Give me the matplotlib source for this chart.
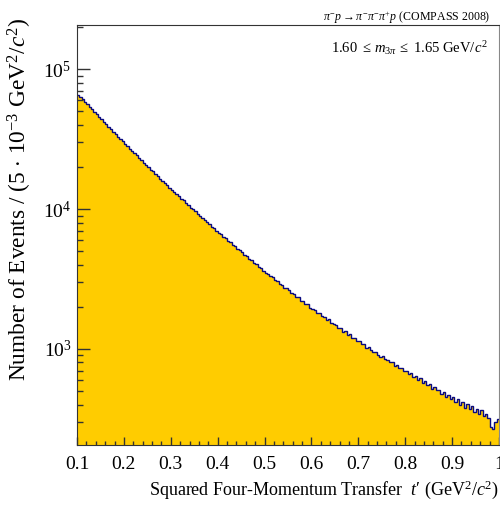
import numpy as np
import matplotlib
matplotlib.use('Agg')
import matplotlib.pyplot as plt
from matplotlib.ticker import LogLocator, LogFormatterMathtext, MultipleLocator, NullFormatter

plt.rcParams['font.family'] = ['Liberation Serif', 'DejaVu Serif']
plt.rcParams['mathtext.fontset'] = 'custom'
plt.rcParams['mathtext.rm'] = 'Liberation Serif'
plt.rcParams['mathtext.it'] = 'Liberation Serif:italic'

# t' histogram, 5e-3 GeV^2/c^2 bins from 0.1 to 1.0
t_lo, t_hi, n_bins = 0.1, 1.0, 180
counts = [
    66060, 63310, 60900, 58300, 56100, 53690, 51620, 49430, 47540, 45510,
    43810, 41980, 40450, 38760, 37350, 35790, 34490, 33030, 31850, 30500,
    29300, 28310, 27120, 26210, 25090, 24260, 23210, 22460, 21490, 20790,
    20030, 19180, 18590, 17790, 17260, 16510, 16010, 15320, 14870, 14220,
    13700, 13330, 12750, 12400, 11860, 11550, 11040, 10750, 10270, 10000,
    9650, 9240, 9000, 8610, 8400, 8040, 7840, 7490, 7320, 6990,
    6760, 6610, 6320, 6190, 5910, 5790, 5530, 5420, 5170, 5070,
    4910, 4690, 4600, 4390, 4320, 4120, 4050, 3860, 3800, 3620,
    3510, 3460, 3300, 3260, 3100, 3070, 2920, 2880, 2740, 2710,
    2640, 2500, 2480, 2350, 2340, 2220, 2210, 2100, 2080, 1970,
    1920, 1910, 1810, 1800, 1710, 1700, 1620, 1640, 1530, 1520,
    1490, 1410, 1400, 1330, 1340, 1260, 1270, 1200, 1190, 1140,
    1140, 1080, 1085, 1020, 1030, 975, 950, 955, 900, 880,
    890, 845, 840, 800, 805, 760, 770, 725, 735, 690,
    700, 660, 670, 625, 640, 600, 615, 570, 585, 550,
    560, 520, 535, 505, 510, 475, 495, 455, 470, 440,
    455, 420, 440, 400, 420, 380, 405, 370, 390, 355,
    370, 345, 365, 330, 345, 320, 275, 268, 300, 315,
]
x_ticks = [0.1, 0.2, 0.3, 0.4, 0.5, 0.6, 0.7, 0.8, 0.9, 1.0]
x_ticklabels = ['0.1', '0.2', '0.3', '0.4', '0.5', '0.6', '0.7', '0.8', '0.9', '1']

edges = np.linspace(t_lo, t_hi, n_bins + 1)

fig = plt.figure(figsize=(5.0, 5.14), dpi=100)
ax = fig.add_axes([0.154, 0.134, 0.844, 0.817])

ax.stairs(counts, edges, baseline=1, fill=True, color='#ffcc00', lw=0)
ax.stairs(counts, edges, baseline=None, color='#0a0a80', lw=1.0)

ax.set_yscale('log')
ax.set_xlim(t_lo, t_hi)
ax.set_ylim(205, 2.07e5)

ax.set_xticks(x_ticks)
ax.set_xticklabels(x_ticklabels)
ax.xaxis.set_minor_locator(MultipleLocator(0.02))
ax.yaxis.set_major_locator(LogLocator(base=10))
ax.yaxis.set_major_formatter(LogFormatterMathtext())
ax.yaxis.set_minor_locator(LogLocator(base=10, subs=np.arange(2, 10)))
ax.yaxis.set_minor_formatter(NullFormatter())

ax.tick_params(axis='both', which='both', direction='in', labelsize=14,
               top=False, right=False, color='#333333')
ax.tick_params(axis='x', which='major', length=6, width=1, pad=8)
ax.tick_params(axis='x', which='minor', length=3, width=1)
ax.tick_params(axis='y', which='major', length=9, width=1, pad=4)
ax.tick_params(axis='y', which='minor', length=4.5, width=1)

for side in ['left', 'bottom', 'top']:
    ax.spines[side].set_color('#333333')
ax.spines['right'].set_color('#888888')

fig.text(0.040, 1 - 18 / 514, r'Number of Events / (5 $\cdot$ 10$^{-3}$ GeV$^2$/$c^2$)',
         rotation=90, ha='center', va='top', fontsize=16.8)
fig.text(0.998, 1 - 490 / 514, r"Squared Four-Momentum Transfer  $t$′ (GeV$^2$/$c^2$)",
         ha='right', va='center', fontsize=13)
fig.text(0.980, 1 - 18 / 514, r'$\pi^{-}p \rightarrow \pi^{-}\pi^{-}\pi^{+}p$ (COMPASS 2008)',
         ha='right', va='center', fontsize=8.6)
fig.text(0.976, 1 - 48 / 514, r'1.60 $\leq\, m_{3\pi}\, \leq$ 1.65 GeV/$c^2$',
         ha='right', va='center', fontsize=10.5)

fig.savefig('out.png', dpi=100)
